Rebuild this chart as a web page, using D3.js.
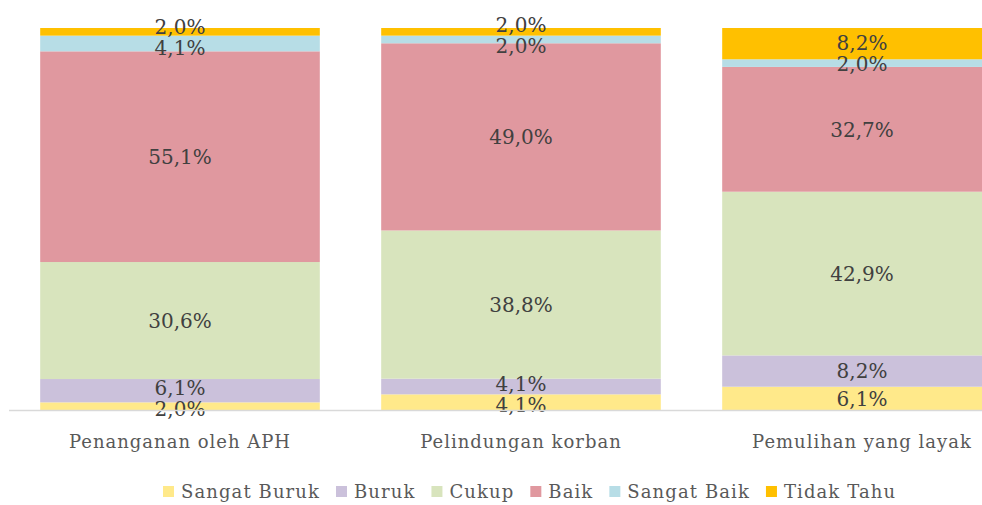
<!DOCTYPE html>
<html><head><meta charset="utf-8">
<script src="https://cdn.jsdelivr.net/npm/d3@7"></script>
<style>body{margin:0;background:#fff}svg{display:block}</style>
</head><body>
<svg id="c" width="982" height="505"></svg>
<script>
const categories = ["Penanganan oleh APH", "Pelindungan korban", "Pemulihan yang layak"];
const seriesNames = ["Sangat Buruk", "Buruk", "Cukup", "Baik", "Sangat Baik", "Tidak Tahu"];
const sangatBuruk = [2.0, 4.1, 6.1];
const buruk = [6.1, 4.1, 8.2];
const cukup = [30.6, 38.8, 42.9];
const baik = [55.1, 49.0, 32.7];
const sangatBaik = [4.1, 2.0, 2.0];
const tidakTahu = [2.0, 2.0, 8.2];
const colors = ["#FFE98A", "#CBC1DB", "#D8E4BD", "#E0989F", "#B7DDE6", "#FFC000"];

const seriesVals = [sangatBuruk, buruk, cukup, baik, sangatBaik, tidakTahu];
const rows = categories.map((c, i) => {
  const r = {cat: c};
  seriesNames.forEach((s, j) => r[s] = seriesVals[j][i]);
  return r;
});
const stack = d3.stack().keys(seriesNames).offset(d3.stackOffsetExpand);
const layers = stack(rows);

const svg = d3.select("#c");
const font = "'DejaVu Serif', serif";
const x = d3.scaleBand().domain(categories).range([9.5, 1032.5]).paddingInner(0.18).paddingOuter(0.09);
const y = d3.scaleLinear().domain([0, 1]).range([410, 28]);

const g = svg.append("g");
layers.forEach((layer, j) => {
  g.selectAll(null).data(layer).enter().append("rect")
    .attr("x", d => x(d.data.cat))
    .attr("width", x.bandwidth())
    .attr("y", d => y(d[1]))
    .attr("height", d => y(d[0]) - y(d[1]))
    .attr("fill", colors[j]);
});
// axis line
svg.append("line").attr("x1", 9).attr("x2", 982).attr("y1", 410.5).attr("y2", 410.5)
  .attr("stroke", "#D9D9D9").attr("stroke-width", 1.5);

// labels with simple de-overlap per bar
const minGap = 21;
categories.forEach((cat, i) => {
  const labs = layers.map(layer => ({
    key: layer.key,
    v: layer[i].data[layer.key],
    cy: (y(layer[i][0]) + y(layer[i][1])) / 2
  }));
  for (let iter = 0; iter < 10; iter++) {
    for (let k = 0; k < labs.length - 1; k++) {
      const a = labs[k], b = labs[k + 1]; // a below b (a.cy > b.cy)
      const gap = a.cy - b.cy;
      if (gap < minGap) {
        const push = (minGap - gap) / 2;
        a.cy += push; b.cy -= push;
      }
    }
  }
  g.selectAll(null).data(labs).enter().append("text")
    .attr("x", x(cat) + x.bandwidth() / 2)
    .attr("y", d => d.cy)
    .attr("dy", "0.36em")
    .attr("text-anchor", "middle")
    .attr("font-family", font).attr("font-size", 20)
    .attr("fill", "#404040")
    .text(d => d3.format(".1f")(d.v).replace(".", ",") + "%");
});

const xAxis = svg.append("g").attr("transform", "translate(0,410)")
  .call(d3.axisBottom(x).tickSize(0).tickPadding(25));
xAxis.select(".domain").remove();
xAxis.selectAll("text").attr("font-family", font).attr("font-size", 18)
  .attr("fill", "#595959").attr("letter-spacing", "1px");

// legend
const legend = svg.append("g").attr("transform", "translate(0,492)");
let lx = 163;
const items = legend.selectAll("g").data(seriesNames).enter().append("g");
items.each(function (d, i) {
  const it = d3.select(this);
  it.append("rect").attr("x", 0).attr("y", -6).attr("width", 11).attr("height", 11).attr("fill", colors[i]);
  const t = it.append("text").attr("x", 18).attr("y", 0).attr("dy", "0.36em")
    .attr("font-family", font).attr("font-size", 18).attr("fill", "#595959")
    .attr("letter-spacing", "1.1px").text(d);
  const w = t.node().getComputedTextLength();
  it.attr("transform", `translate(${lx},0)`);
  lx += 18 + w + 16;
});
</script>
</body></html>
